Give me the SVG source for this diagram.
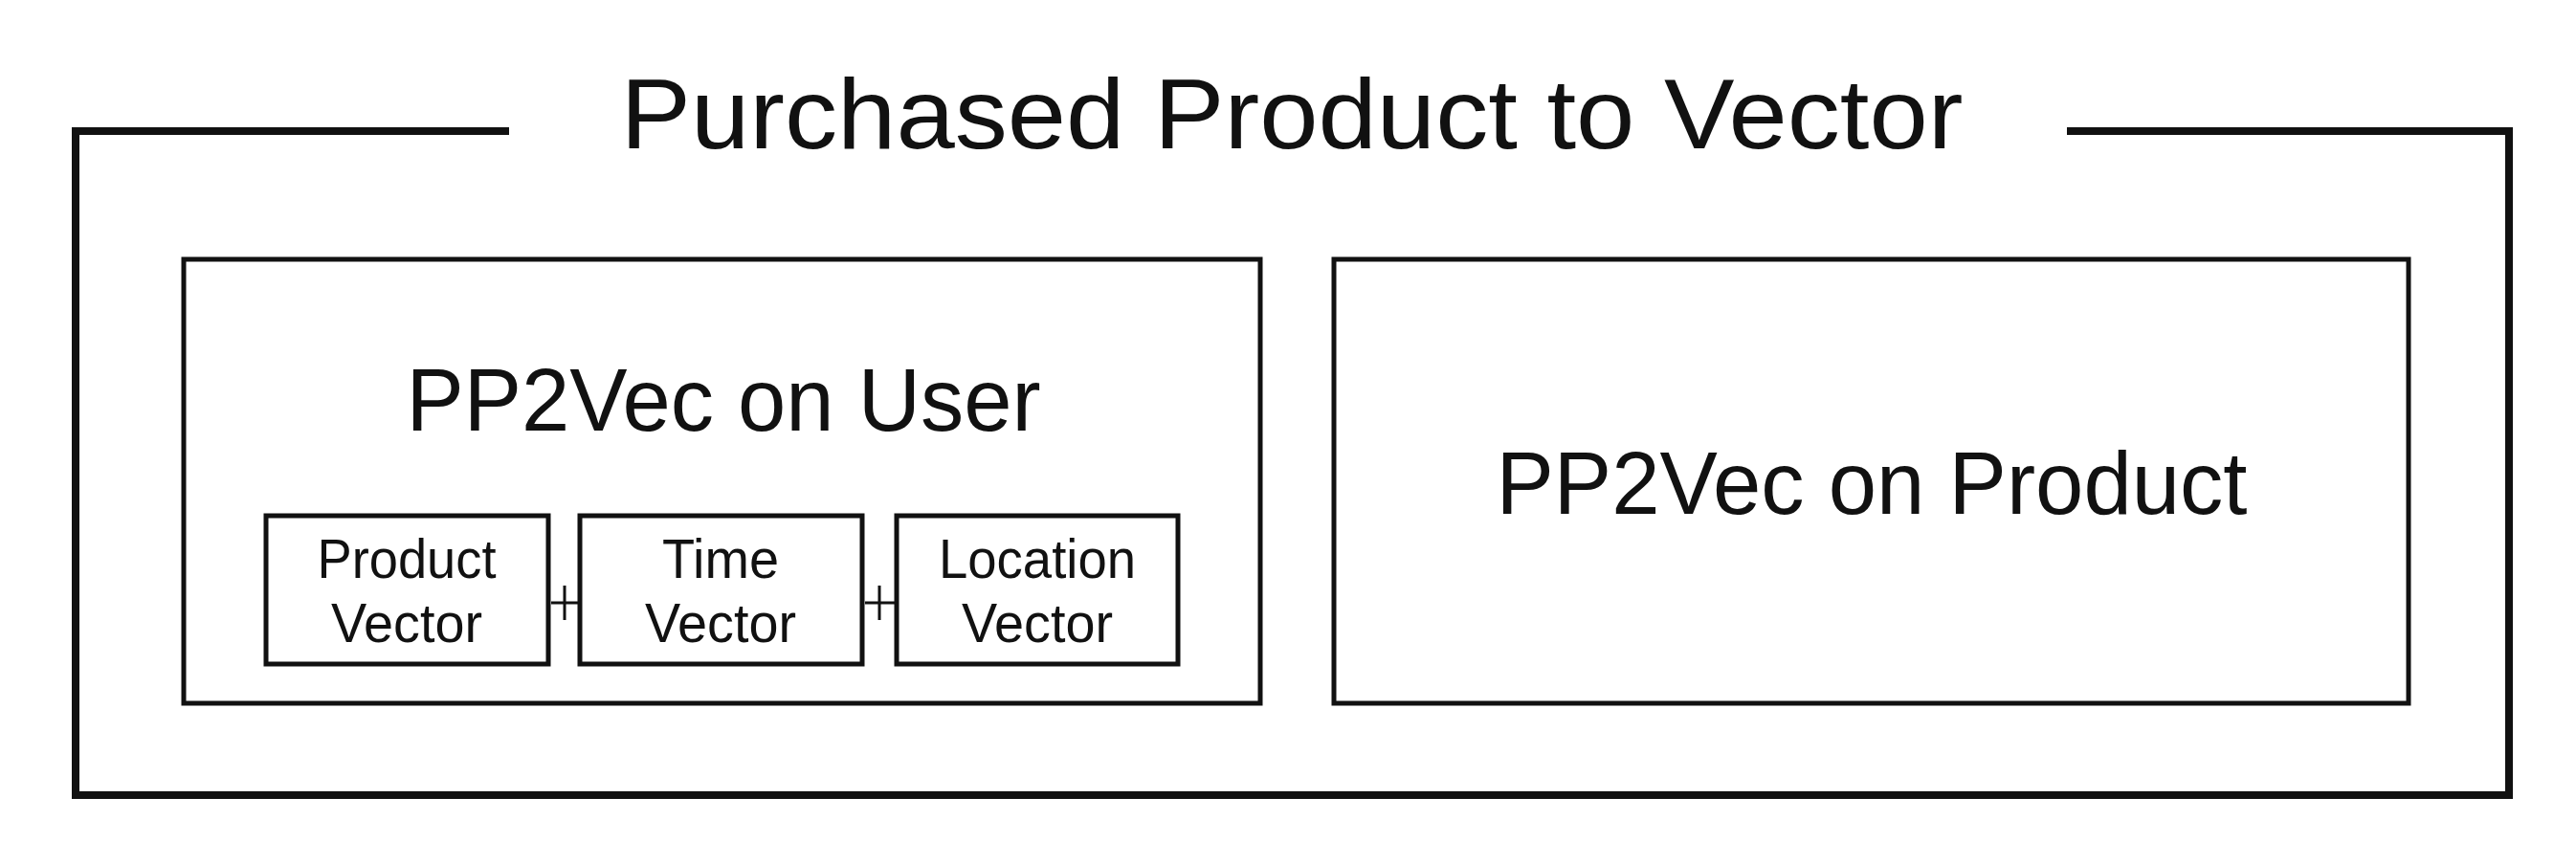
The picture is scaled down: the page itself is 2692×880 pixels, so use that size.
<svg xmlns="http://www.w3.org/2000/svg" width="2692" height="880" viewBox="0 0 2692 880">
<style>
.t{font-family:"Liberation Sans",Arial,sans-serif;fill:#111;text-anchor:middle}
.b{fill:none;stroke:#111}
</style>
<rect width="2692" height="880" fill="#fff"/>
<g id="frame">
<path class="b" stroke-width="8" d="M532,137 H79 V831 H2622 V137 H2160"/>
<text class="t" x="1350" y="155" font-size="104" textLength="1403" lengthAdjust="spacingAndGlyphs">Purchased Product to Vector</text>
</g>
<g id="user">
<rect class="b" stroke-width="5" x="192" y="271" width="1125" height="464"/>
<text class="t" x="756" y="450" font-size="92" textLength="663" lengthAdjust="spacingAndGlyphs">PP2Vec on User</text>
</g>
<g id="product-vector">
<rect class="b" stroke-width="5" x="278" y="539" width="295" height="155"/>
<text class="t" x="425" y="604" font-size="58" textLength="187" lengthAdjust="spacingAndGlyphs">Product</text>
<text class="t" x="425" y="671" font-size="58" textLength="158" lengthAdjust="spacingAndGlyphs">Vector</text>
</g>
<g id="time-vector">
<rect class="b" stroke-width="5" x="606" y="539" width="295" height="155"/>
<text class="t" x="753" y="604" font-size="58" textLength="122" lengthAdjust="spacingAndGlyphs">Time</text>
<text class="t" x="753" y="671" font-size="58" textLength="158" lengthAdjust="spacingAndGlyphs">Vector</text>
</g>
<g id="location-vector">
<rect class="b" stroke-width="5" x="937" y="539" width="294" height="155"/>
<text class="t" x="1084" y="604" font-size="58" textLength="206" lengthAdjust="spacingAndGlyphs">Location</text>
<text class="t" x="1084" y="671" font-size="58" textLength="158" lengthAdjust="spacingAndGlyphs">Vector</text>
</g>
<g id="connectors">
<path class="b" stroke-width="3" d="M576,630 H604 M590,612 V648 M904,630 H935 M919,612 V648"/>
</g>
<g id="product">
<rect class="b" stroke-width="5" x="1394" y="271" width="1123" height="464"/>
<text class="t" x="1956" y="537" font-size="92" textLength="785" lengthAdjust="spacingAndGlyphs">PP2Vec on Product</text>
</g>
</svg>
